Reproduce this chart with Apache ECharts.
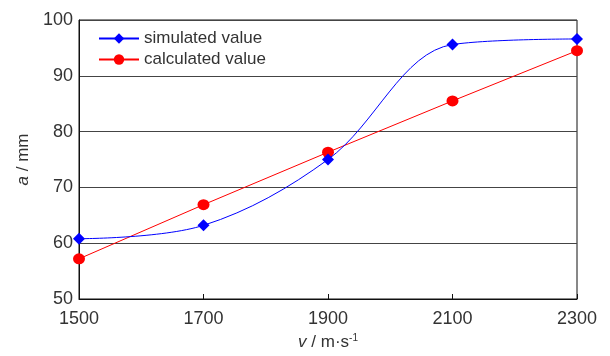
<!DOCTYPE html>
<html>
<head>
<meta charset="utf-8">
<script src="https://cdn.jsdelivr.net/npm/echarts@6/dist/echarts.min.js"></script>
<style>
html,body{margin:0;padding:0;background:#fff;}
#chart{width:610px;height:356px;}
</style>
</head>
<body>
<div id="chart"></div>
<script>
var velocities = [1500, 1700, 1900, 2100, 2300];
var simulated = [60.8, 63.2, 75.0, 95.6, 96.6];
var calculated = [57.2, 66.9, 76.3, 85.5, 94.5];
var xTicks = [1500, 1700, 1900, 2100, 2300];
var yTicks = [50, 60, 70, 80, 90, 100];

var FONT = '"Liberation Sans", Arial, sans-serif';
function pairs(xs, ys) { return xs.map(function (x, i) { return [x, ys[i]]; }); }

var chart = echarts.init(document.getElementById('chart'));
chart.setOption({
  animation: false,
  backgroundColor: '#fff',
  grid: { left: 79, right: 33, top: 20, bottom: 50, show: true, borderColor: '#111', borderWidth: 1, containLabel: false },
  legend: {
    orient: 'vertical', left: 93, top: 25, itemWidth: 40, itemHeight: 13, itemGap: 4,
    textStyle: { fontFamily: FONT, fontSize: 17, color: '#333' },
    data: ['simulated value', 'calculated value']
  },
  xAxis: {
    type: 'value', min: xTicks[0], max: xTicks[xTicks.length - 1], interval: 200,
    name: '{i|v} / m·s{sup|-1}', nameLocation: 'middle', nameGap: 34,
    nameTextStyle: {
      fontFamily: FONT, fontSize: 17, color: '#333',
      rich: {
        i: { fontFamily: FONT, fontSize: 17, fontStyle: 'italic', color: '#333' },
        sup: { fontFamily: FONT, fontSize: 10, color: '#333', padding: [0, 0, 9, 0] }
      }
    },
    axisLine: { lineStyle: { color: '#111', width: 1 } },
    axisTick: { inside: true, length: 5, lineStyle: { color: '#111' } },
    axisLabel: { fontFamily: FONT, fontSize: 18, color: '#333', margin: 11, formatter: function (v) { return String(v); } },
    splitLine: { show: false }
  },
  yAxis: {
    type: 'value', min: yTicks[0], max: yTicks[yTicks.length - 1], interval: 10,
    name: '{i|a} / mm', nameLocation: 'middle', nameGap: 40, nameRotate: 90,
    nameTextStyle: {
      fontFamily: FONT, fontSize: 17, color: '#333',
      rich: { i: { fontFamily: FONT, fontSize: 17, fontStyle: 'italic', color: '#333' } }
    },
    axisLine: { show: true, lineStyle: { color: '#111', width: 1 } },
    axisTick: { show: false },
    axisLabel: { fontFamily: FONT, fontSize: 18, color: '#333', margin: 6 },
    splitLine: { show: true, lineStyle: { color: '#444', width: 1 } }
  },
  series: [
    {
      name: 'simulated value', type: 'line', smooth: 0.35,
      data: pairs(velocities, simulated),
      symbol: 'diamond', symbolSize: [12, 12],
      lineStyle: { color: '#0000ff', width: 1 },
      itemStyle: { color: '#0000ff' }, z: 3
    },
    {
      name: 'calculated value', type: 'line', smooth: false,
      data: pairs(velocities, calculated),
      symbol: 'circle', symbolSize: [12, 11],
      lineStyle: { color: '#ff0000', width: 1 },
      itemStyle: { color: '#ff0000' }, z: 2
    }
  ]
});
</script>
</body>
</html>
